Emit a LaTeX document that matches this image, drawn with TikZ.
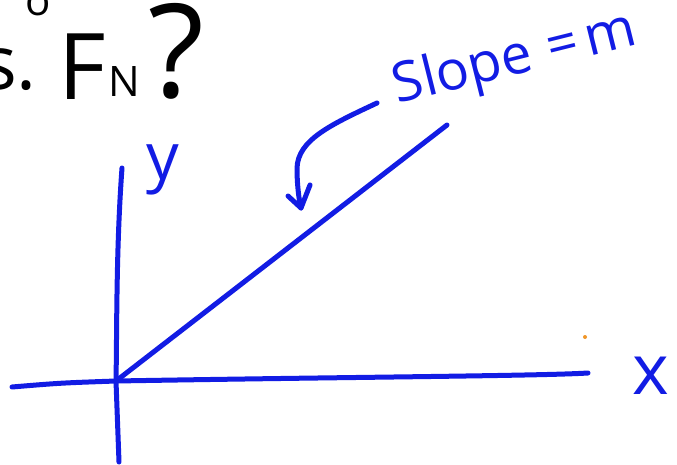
\documentclass[tikz,border=0pt]{standalone}
\usepackage{fontspec}
\setmainfont{Open Sans}
\definecolor{pen}{RGB}{18,28,228}
\definecolor{dot}{RGB}{240,150,40}
\tikzset{
  stroke/.style={draw=pen, line width=5pt, line cap=round, line join=round},
  ink/.style={inner sep=0pt, text=black},
  blueink/.style={inner sep=0pt, text=pen},
}
\begin{document}
\begin{tikzpicture}[x=1pt,y=-1pt]
\useasboundingbox (0,0) rectangle (677,465);
\clip (0,0) rectangle (677,465);
\fill[white] (0,0) rectangle (677,465);
% black heading
\node[ink, anchor=base east] (vs) at (37,90) {\fontsize{75}{75}\selectfont s.};
\node[ink] (deg) at (38,4) {\fontsize{42}{42}\selectfont o};
\node[ink, anchor=base west] (F) at (58,100) {\fontsize{92}{92}\selectfont F};
\node[ink, anchor=base west] (N) at (108,97) {\fontsize{42}{42}\selectfont N};
\node[ink, anchor=base west] (q) at (148,98) {\fontsize{130}{130}\selectfont ?};
% axes
\coordinate (O) at (116,381);
\coordinate (xs) at (12,387);
\coordinate (xe) at (588,373);
\coordinate (yt) at (122,168);
\coordinate (yb) at (119,462);
\coordinate (le) at (447,125);
\draw[stroke] (xs) .. controls (60,383) .. (O) .. controls (350,377) and (540,376) .. (xe);
\draw[stroke] (yt) .. controls (116,250) and (117,330) .. (O) -- (yb);
\draw[stroke] (O) -- (le);
% labels
\node[blueink] (ylab) at (163,170) {\fontsize{65}{65}\selectfont y};
\node[blueink] (xlab) at (651,376) {\fontsize{70}{70}\selectfont x};
\node[blueink, rotate=14] (slope) at (515,60) {\fontsize{55}{55}\selectfont Slope\hspace{16pt}=\hspace{8pt}m};
% pointer arrow
\coordinate (as) at (377,103);
\coordinate (at) at (301,208);
\coordinate (bl) at (288,196);
\coordinate (br) at (310,185);
\draw[stroke] (as) .. controls (330,125) and (298,140) .. (297,168) .. controls (297,185) and (299,200) .. (at);
\draw[stroke] (bl) -- (at) -- (br);
% stray dot
\fill[dot] (585,337) circle (2);
\end{tikzpicture}
\end{document}
